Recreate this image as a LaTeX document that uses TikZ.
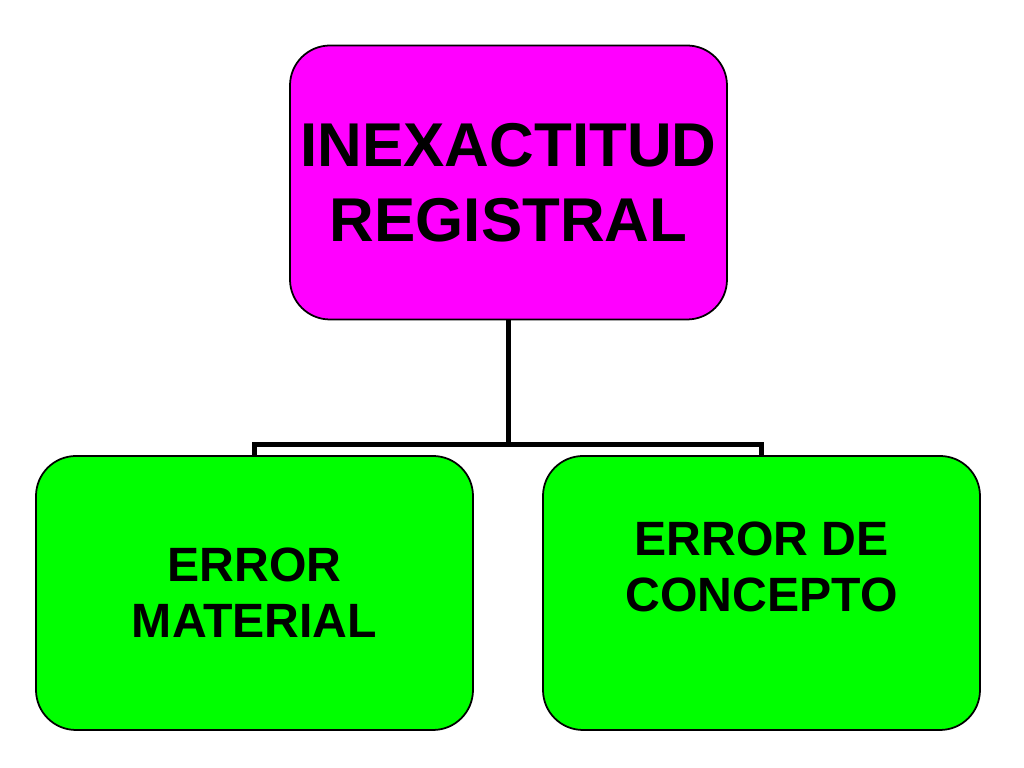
\documentclass[tikz,border=0pt]{standalone}
\usepackage{fontspec}
\setmainfont{Liberation Sans}
\usetikzlibrary{positioning}

\definecolor{rosa}{HTML}{FF00FF}
\definecolor{verde}{HTML}{00FF00}

\tikzset{
    caja/.style={draw=black, line width=0.5pt, rounded corners=0.4cm,
        minimum width=4.37cm, minimum height=2.74cm, inner sep=0pt},
    raiz/.style={caja, fill=rosa, align=center,
        font=\fontsize{17.6}{21.3}\selectfont\bfseries},
    hoja/.style={caja, fill=verde, align=center,
        font=\fontsize{13.7}{15.9}\selectfont\bfseries},
    rama/.style={line width=1.6pt}
}

\begin{document}
\begin{tikzpicture}
            \useasboundingbox (0,0) rectangle (10.24,7.68);

            \node[raiz] (inexactitud) at (5.085, 5.855){INEXACTITUD\\REGISTRAL};

            \node[hoja] (material) at (2.545, 1.75){ERROR\\MATERIAL};
            \node[hoja] (concepto) at (7.615, 1.75){};
                \node[align=center, inner sep=0pt, font=\fontsize{13.7}{15.9}\selectfont\bfseries]
                    (textoconcepto) at ([yshift=0.26cm]concepto.center){ERROR DE\\CONCEPTO};

            \draw[rama] (inexactitud.south) -- ++(0,-1.24) coordinate (union);
            \draw[rama] (material.north) |- (union) -| (concepto.north);

      \end{tikzpicture}
\end{document}
